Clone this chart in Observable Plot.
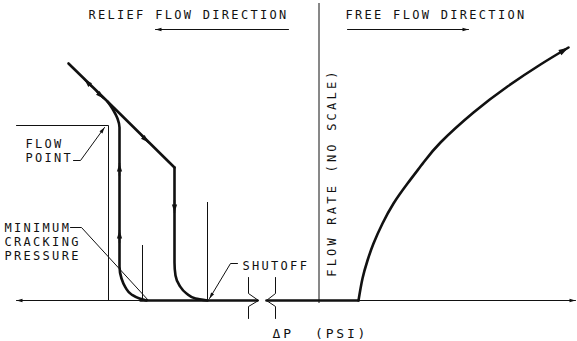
<!DOCTYPE html>
<html><head><meta charset="utf-8">
<script src="https://cdn.jsdelivr.net/npm/d3@7"></script>
<script src="https://cdn.jsdelivr.net/npm/@observablehq/plot@0.6"></script>
<style>
html,body{margin:0;padding:0;background:#fff;}
#chart svg{display:block;}
</style></head><body><div id="chart"></div>
<script>
// Diagram units: dp = pressure differential (no scale), flow = flow rate (no scale)
const reliefDiagonalDp   = [68, 107, 174];
const reliefDiagonalFlow = [237, 199, 133];
const reliefOpeningDp    = [146, 139, 131, 125, 121, 119, 119, 117, 113, 107];
const reliefOpeningFlow  = [0, 2, 6, 13, 22, 34, 173, 182, 190, 199];
const reliefClosingDp    = [207, 195, 186, 179, 175, 174, 174];
const reliefClosingFlow  = [0, 2, 7, 15, 25, 38, 133];
const freeFlowDp   = [358, 362, 367, 373, 382, 393, 407, 423, 440, 473, 507, 540, 568];
const freeFlowFlow = [0, 22, 40, 57, 77, 97, 117, 138, 158, 188, 214, 236, 253];

// zero-flow segments (thick) and axis ends (thin)
const zeroFlowStart = [140, 266];
const zeroFlowEnd   = [257, 358];
const axisStartDp = [140, 358];
const axisEndDp   = [16, 575];
const flowAxisDp = 318.5;
const flowAxisRange = [-3, 297];

// flow direction arrows on the hysteresis loop
const dirTailDp   = [119, 119, 174, 91, 96, 141];
const dirTailFlow = [125, 58, 100, 214, 209, 165];
const dirTipDp    = [119, 119, 174, 84, 103, 148];
const dirTipFlow  = [137, 70, 88, 221, 202, 158];

// reference lines
const flowPointDp = 108, flowPointFlow = 175, flowPointLeft = 16;
const refVerticalDp   = [142, 207];
const refVerticalTop  = [55, 98];

// leaders
const leaderId   = ["flowpoint","flowpoint","flowpoint","cracking","cracking","cracking","shutoff","shutoff","shutoff"];
const leaderDp   = [73, 80, 104, 70, 81, 148, 237, 230, 209];
const leaderFlow = [140, 140, 173, 73, 73, 0, 37, 37, 2];
const leaderArrow = {flowpoint: true, cracking: false, shutoff: true};

// axis break symbols
const breakId   = ["a","a","a","a","a","b","b","b","b","b"];
const breakDp   = [248, 248, 258, 248, 248, 275, 275, 266, 275, 275];
const breakFlow = [23, 7, 0, -6, -18, 23, 7, 0, -6, -18];

// direction banners
const bannerDpFrom = [288, 347];
const bannerDpTo   = [155, 468];
const bannerFlow   = 271;

// labels
const labelText = ["RELIEF FLOW DIRECTION", "FREE FLOW DIRECTION", "FLOW", "POINT", "MINIMUM", "CRACKING", "PRESSURE", "SHUTOFF", "ΔP  (PSI)"];
const labelDp   = [88, 345, 25, 25, 4, 4, 4, 242, 272];
const labelFlow = [285, 285, 156, 142, 72, 58, 44, 34, -33];
const axisTitle = "FLOW RATE (NO SCALE)";
const axisTitleDp = 332, axisTitleFlow = 128;

const zip = (xs, ys, extra = {}) => xs.map((x, i) => ({dp: x, flow: ys[i], ...Object.fromEntries(Object.entries(extra).map(([k, v]) => [k, v[i]]))}));

function filledArrow(len, wid) {
  return (color) => {
    const m = d3.create("svg:marker")
      .attr("viewBox", `${-len} ${-wid} ${len} ${2 * wid}`)
      .attr("markerUnits", "userSpaceOnUse")
      .attr("markerWidth", len).attr("markerHeight", 2 * wid)
      .attr("refX", 0).attr("refY", 0)
      .attr("orient", "auto")
      .attr("overflow", "visible");
    m.append("path").attr("d", `M0,0L${-len},${-wid}L${-len},${wid}Z`).attr("fill", color).attr("stroke", "none");
    return m.node();
  };
}
const smallArrow = filledArrow(6, 1.8);
const midArrow = filledArrow(8, 2.6);
const bigArrow = filledArrow(10, 3);

const ink = "#111";
const thin = 1;
const thick = 2.6;

const dirArrows = dirTailDp.flatMap((d, i) => [{dp: d, flow: dirTailFlow[i], id: i}, {dp: dirTipDp[i], flow: dirTipFlow[i], id: i}]);
const zeroSegs = zeroFlowStart.flatMap((s, i) => [{dp: s, flow: 0, id: i}, {dp: zeroFlowEnd[i], flow: 0, id: i}]);
const axisSegs = axisStartDp.flatMap((s, i) => [{dp: s, flow: 0, id: i}, {dp: axisEndDp[i], flow: 0, id: i}]);
const banners = bannerDpFrom.flatMap((s, i) => [{dp: s, flow: bannerFlow, id: i}, {dp: bannerDpTo[i], flow: bannerFlow, id: i}]);
const leaders = zip(leaderDp, leaderFlow, {id: leaderId});
const breaks = zip(breakDp, breakFlow, {id: breakId});
const labels = zip(labelDp, labelFlow, {text: labelText});

const plot = Plot.plot({
  width: 577, height: 341,
  marginTop: 0, marginRight: 0, marginBottom: 0, marginLeft: 0,
  x: {domain: [0, 577], range: [0, 577], axis: null},
  y: {domain: [-41, 300], range: [341, 0], axis: null},
  style: {background: "white", fontFamily: "'DejaVu Sans Mono', monospace", fontSize: "12px", overflow: "visible"},
  marks: [
    Plot.line(axisSegs, {x: "dp", y: "flow", z: "id", stroke: ink, strokeWidth: thin, markerEnd: smallArrow}),
    Plot.ruleX([flowAxisDp], {y1: flowAxisRange[0], y2: flowAxisRange[1], stroke: ink, strokeWidth: thin}),
    Plot.line([{dp: flowPointLeft, flow: flowPointFlow}, {dp: flowPointDp, flow: flowPointFlow}, {dp: flowPointDp, flow: 0}], {x: "dp", y: "flow", stroke: ink, strokeWidth: thin}),
    Plot.ruleX(refVerticalDp, {y1: 0, y2: (d, i) => refVerticalTop[i], stroke: ink, strokeWidth: thin}),
    Plot.line(leaders.filter(d => leaderArrow[d.id]), {x: "dp", y: "flow", z: "id", stroke: ink, strokeWidth: thin, markerEnd: smallArrow}),
    Plot.line(leaders.filter(d => !leaderArrow[d.id]), {x: "dp", y: "flow", z: "id", stroke: ink, strokeWidth: thin}),
    Plot.line(breaks, {x: "dp", y: "flow", z: "id", stroke: ink, strokeWidth: thin, strokeLinejoin: "miter"}),
    Plot.line(banners, {x: "dp", y: "flow", z: "id", stroke: ink, strokeWidth: thin, markerEnd: smallArrow}),
    Plot.line(zeroSegs, {x: "dp", y: "flow", z: "id", stroke: ink, strokeWidth: thick}),
    Plot.line(zip(reliefDiagonalDp, reliefDiagonalFlow), {x: "dp", y: "flow", stroke: ink, strokeWidth: thick}),
    Plot.line(zip(reliefOpeningDp, reliefOpeningFlow), {x: "dp", y: "flow", stroke: ink, strokeWidth: thick, curve: "monotone-y"}),
    Plot.line(zip(reliefClosingDp, reliefClosingFlow), {x: "dp", y: "flow", stroke: ink, strokeWidth: thick, curve: "monotone-y"}),
    Plot.line(dirArrows, {x: "dp", y: "flow", z: "id", stroke: ink, strokeWidth: 1.5, markerEnd: midArrow}),
    Plot.line(zip(freeFlowDp, freeFlowFlow), {x: "dp", y: "flow", stroke: ink, strokeWidth: thick, curve: "natural", markerEnd: bigArrow}),
    Plot.text(labels, {x: "dp", y: "flow", text: "text", textAnchor: "start", lineAnchor: "middle", fill: ink}),
    Plot.text([axisTitle], {x: axisTitleDp, y: axisTitleFlow, text: d => d, rotate: -90, textAnchor: "middle", lineAnchor: "middle", fill: ink})
  ]
});

const sel = d3.select(plot);
sel.selectAll("text").each(function() {
  const t = this.textContent;
  let ls = 2.3;
  if (t.startsWith("ΔP")) { ls = 2.8; this.style.whiteSpace = "pre"; this.style.fontSize = "13px"; }
  if (t.startsWith("FLOW RATE")) ls = 3.2;
  this.style.letterSpacing = ls + "px";
});
document.getElementById("chart").appendChild(plot);
</script>
</body></html>
